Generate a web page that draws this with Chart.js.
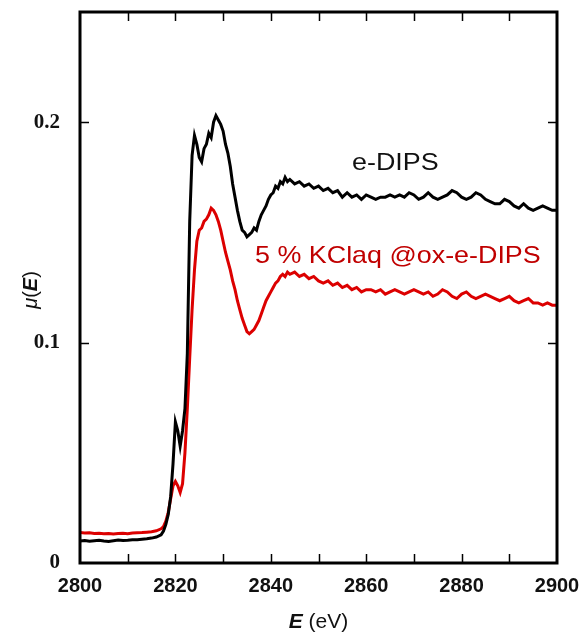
<!DOCTYPE html>
<html>
<head>
<meta charset="utf-8">
<script src="https://cdn.jsdelivr.net/npm/chart.js@4"></script>
<style>
  html, body { margin: 0; padding: 0; background: #fff; }
  #wrap { width: 583px; height: 639px; }
</style>
</head>
<body>
<div id="wrap"><canvas id="xanesChart" width="583" height="639"></canvas></div>
<script>
// Photon energy grid (eV)
const energy = [
  2800, 2801, 2802, 2803, 2804, 2805, 2806, 2807, 2808, 2809,
  2810, 2811, 2812, 2813, 2814, 2815, 2816, 2817,
  2817.5, 2818, 2818.5, 2819, 2819.5, 2820, 2820.5, 2821, 2821.5, 2822,
  2822.5, 2823, 2823.5, 2824, 2824.5, 2825, 2825.5, 2826, 2826.5, 2827,
  2827.5, 2828, 2828.5, 2829, 2829.5, 2830, 2830.5, 2831, 2831.5, 2832,
  2832.5, 2833, 2833.5, 2834, 2834.5, 2835, 2835.5, 2836, 2836.5, 2837,
  2837.5, 2838, 2838.5, 2839, 2839.5, 2840, 2840.5, 2841, 2841.5, 2842,
  2842.5, 2843, 2843.5,
  2844, 2845, 2846, 2847, 2848, 2849, 2850, 2851, 2852, 2853,
  2854, 2855, 2856, 2857, 2858, 2859, 2860, 2861, 2862, 2863,
  2864, 2865, 2866, 2867, 2868, 2869, 2870, 2871, 2872, 2873,
  2874, 2875, 2876, 2877, 2878, 2879, 2880, 2881, 2882, 2883,
  2884, 2885, 2886, 2887, 2888, 2889, 2890, 2891, 2892, 2893,
  2894, 2895, 2896, 2897, 2898, 2899, 2900
];

// e-DIPS
const muDips = [
  0.0100, 0.0102, 0.0099, 0.0101, 0.0103, 0.0100, 0.0098, 0.0101, 0.0104, 0.0102,
  0.0103, 0.0105, 0.0106, 0.0108, 0.0110, 0.0113, 0.0118, 0.0128,
  0.0145, 0.0175, 0.022, 0.030, 0.045, 0.064, 0.060, 0.053, 0.060, 0.070,
  0.095, 0.155, 0.185, 0.194, 0.190, 0.184, 0.182, 0.188, 0.190, 0.195,
  0.193, 0.200, 0.203, 0.201, 0.199, 0.196, 0.190, 0.186, 0.180, 0.172,
  0.166, 0.160, 0.155, 0.151, 0.150, 0.148, 0.149, 0.150, 0.152, 0.151,
  0.155, 0.158, 0.160, 0.162, 0.165, 0.167, 0.168, 0.171, 0.170, 0.173,
  0.172, 0.175, 0.173,
  0.174, 0.172, 0.173, 0.171, 0.172, 0.170, 0.171, 0.169, 0.170, 0.168,
  0.169, 0.166, 0.168, 0.166, 0.167, 0.165, 0.167, 0.166, 0.165, 0.166,
  0.166, 0.167, 0.166, 0.167, 0.166, 0.168, 0.167, 0.165, 0.166, 0.168,
  0.166, 0.165, 0.166, 0.167, 0.169, 0.168, 0.166, 0.165, 0.166, 0.168,
  0.167, 0.165, 0.164, 0.163, 0.163, 0.165, 0.164, 0.162, 0.161, 0.163,
  0.161, 0.160, 0.161, 0.162, 0.161, 0.160, 0.160
];

// 5 % KClaq @ox-e-DIPS
const muKcl = [
  0.0138, 0.0136, 0.0137, 0.0134, 0.0135, 0.0133, 0.0134, 0.0132, 0.0134, 0.0135,
  0.0133, 0.0136, 0.0137, 0.0138, 0.0140, 0.0142, 0.0146, 0.0155,
  0.0165, 0.019, 0.023, 0.029, 0.035, 0.037, 0.035, 0.032, 0.036, 0.050,
  0.070, 0.093, 0.115, 0.133, 0.146, 0.151, 0.152, 0.155, 0.156, 0.158,
  0.161, 0.160, 0.158, 0.155, 0.151, 0.146, 0.141, 0.137, 0.133, 0.128,
  0.124, 0.119, 0.115, 0.111, 0.108, 0.105, 0.104, 0.105, 0.106, 0.108,
  0.110, 0.113, 0.116, 0.119, 0.121, 0.123, 0.125, 0.127, 0.128, 0.130,
  0.131, 0.130, 0.132,
  0.131, 0.132, 0.130, 0.131, 0.129, 0.130, 0.128, 0.127, 0.128, 0.126,
  0.127, 0.125, 0.126, 0.124, 0.125, 0.123, 0.124, 0.124, 0.123, 0.124,
  0.122, 0.123, 0.124, 0.123, 0.122, 0.123, 0.124, 0.123, 0.122, 0.123,
  0.121, 0.122, 0.124, 0.123, 0.121, 0.120, 0.122, 0.123, 0.121, 0.120,
  0.121, 0.122, 0.121, 0.120, 0.119, 0.120, 0.121, 0.119, 0.118, 0.119,
  0.120, 0.118, 0.118, 0.117, 0.118, 0.117, 0.117
];

// Axis ticks
const xTicks = [2800, 2810, 2820, 2830, 2840, 2850, 2860, 2870, 2880, 2890, 2900];
const xLabels = [2800, 2820, 2840, 2860, 2880, 2900];
const yTicks = [0, 0.1, 0.2];

const toPoints = (ys) => energy.map((e, i) => ({ x: e, y: ys[i] }));

// Frame, inward ticks, axis titles and curve labels
const framePlugin = {
  id: 'frame',
  afterDraw(chart) {
    const { ctx, chartArea: a, scales } = chart;
    const len = 9;
    ctx.save();
    ctx.strokeStyle = '#000';

    ctx.lineWidth = 1.5;
    ctx.beginPath();
    xTicks.slice(1, -1).forEach(v => {
      const px = Math.round(scales.x.getPixelForValue(v)) + 0.5;
      ctx.moveTo(px, a.bottom); ctx.lineTo(px, a.bottom - len);
      ctx.moveTo(px, a.top); ctx.lineTo(px, a.top + len);
    });
    yTicks.slice(1).forEach(v => {
      const py = Math.round(scales.y.getPixelForValue(v)) + 0.5;
      ctx.moveTo(a.left, py); ctx.lineTo(a.left + len, py);
      ctx.moveTo(a.right, py); ctx.lineTo(a.right - len, py);
    });
    ctx.stroke();

    ctx.lineWidth = 3;
    ctx.strokeRect(a.left, a.top, a.right - a.left, a.bottom - a.top);

    // curve labels
    ctx.textBaseline = 'alphabetic';
    ctx.font = '24px "Liberation Sans", Arial, sans-serif';
    ctx.fillStyle = '#111';
    ctx.save();
    ctx.translate(352, 170);
    ctx.scale(1.12, 1);
    ctx.fillText('e-DIPS', 0, 0);
    ctx.restore();

    ctx.fillStyle = '#c00000';
    ctx.save();
    ctx.translate(255, 263);
    ctx.scale(1.12, 1);
    ctx.fillText('5 % KClaq @ox-e-DIPS', 0, 0);
    ctx.restore();

    // x title: E (eV)
    ctx.fillStyle = '#111';
    const f1 = 'italic bold 21px "Liberation Sans", Arial, sans-serif';
    const f2 = '21px "Liberation Sans", Arial, sans-serif';
    ctx.font = f1;
    const wE = ctx.measureText('E').width;
    ctx.font = f2;
    const wRest = ctx.measureText(' (eV)').width;
    let x0 = (a.left + a.right) / 2 - (wE + wRest) / 2;
    ctx.font = f1; ctx.fillText('E', x0, 628);
    ctx.font = f2; ctx.fillText(' (eV)', x0 + wE, 628);

    // y title: mu(E)
    ctx.save();
    ctx.translate(37, 290);
    ctx.rotate(-Math.PI / 2);
    const parts = [
      ['\u03bc', 'italic 20px "Liberation Sans", Arial, sans-serif'],
      ['(', '20px "Liberation Sans", Arial, sans-serif'],
      ['E', 'italic bold 20px "Liberation Sans", Arial, sans-serif'],
      [')', '20px "Liberation Sans", Arial, sans-serif']
    ];
    let total = 0;
    parts.forEach(p => { ctx.font = p[1]; total += ctx.measureText(p[0]).width; });
    let cx = -total / 2;
    parts.forEach(p => {
      ctx.font = p[1];
      ctx.fillText(p[0], cx, 0);
      cx += ctx.measureText(p[0]).width;
    });
    ctx.restore();

    ctx.restore();
  }
};

const chart = new Chart(document.getElementById('xanesChart'), {
  type: 'scatter',
  data: {
    datasets: [{
      label: 'e-DIPS',
      data: toPoints(muDips),
      showLine: true,
      borderColor: '#000000',
      borderWidth: 3,
      pointRadius: 0,
      tension: 0
    }, {
      label: '5 % KClaq @ox-e-DIPS',
      data: toPoints(muKcl),
      showLine: true,
      borderColor: '#dc0000',
      borderWidth: 3,
      pointRadius: 0,
      tension: 0
    }]
  },
  options: {
    responsive: false,
    animation: false,
    layout: { padding: { top: 12, right: 26, left: 0, bottom: 0 } },
    plugins: {
      legend: { display: false },
      tooltip: { enabled: false }
    },
    scales: {
      x: {
        type: 'linear',
        min: 2800,
        max: 2900,
        grid: { display: false },
        border: { display: false },
        afterBuildTicks: (scale) => { scale.ticks = xTicks.map(v => ({ value: v })); },
        afterFit: (scale) => {
          scale.height = 76;
          scale.paddingLeft = 0;
          scale.paddingRight = 0;
        },
        ticks: {
          autoSkip: false,
          maxRotation: 0,
          padding: 3,
          color: '#111',
          font: { family: '"Liberation Sans", Arial, sans-serif', size: 20, weight: 'bold' },
          callback: (v) => xLabels.includes(v) ? String(v) : ''
        }
      },
      y: {
        min: 0,
        max: 0.25,
        grid: { display: false },
        border: { display: false },
        afterBuildTicks: (scale) => { scale.ticks = yTicks.map(v => ({ value: v })); },
        afterFit: (scale) => {
          scale.width = 80;
          scale.paddingTop = 0;
          scale.paddingBottom = 0;
        },
        ticks: {
          padding: 12,
          color: '#111',
          font: { family: '"Liberation Serif", "Times New Roman", serif', size: 21, weight: 'bold' },
          callback: (v) => v === 0 ? '0' : v.toFixed(1)
        }
      }
    }
  },
  plugins: [framePlugin]
});
</script>
</body>
</html>
